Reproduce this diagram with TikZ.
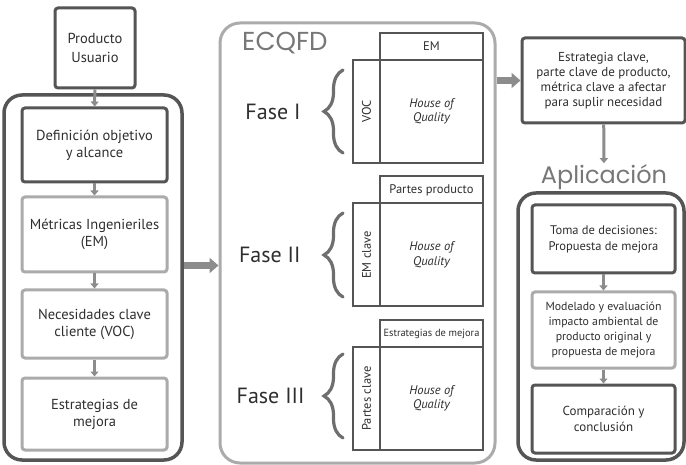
\documentclass[tikz,border=0pt]{standalone}
\usepackage{fontspec}
\setmainfont{PT Sans}
\newfontfamily\thinfont{Poppins}
\usetikzlibrary{positioning}
\usetikzlibrary{arrows.meta}
\usetikzlibrary{decorations.pathreplacing}
\definecolor{darkline}{HTML}{555555}
\definecolor{lightline}{HTML}{ABABAB}
\definecolor{arrowgray}{HTML}{8C8C8C}
\definecolor{textgray}{HTML}{2E2E2E}
\tikzset{stepnode/.style={
          align=center, text=textgray, inner sep=0pt,
          font=\fontsize{14.5}{17}\selectfont
          },
        darkbox/.style={stepnode, draw=darkline, line width=3pt, rounded corners=3pt},
        lightbox/.style={stepnode, draw=lightline, line width=3pt, rounded corners=3pt},
        outerbox/.style={draw=darkline, line width=3.5pt, rounded corners=18pt, inner sep=0pt},
        phasebox/.style={draw=lightline, line width=3pt, rounded corners=20pt, inner sep=0pt},
        hoqcell/.style={draw=darkline, line width=2pt, inner sep=0pt, outer sep=0pt,
          align=center, text=textgray, font=\fontsize{12.5}{14.5}\selectfont},
        hoqtitle/.style={text=textgray, font=\fontsize{22}{24}\selectfont, anchor=east},
        phasebrace/.style={draw=darkline!85, line width=3.2pt, line cap=round,
          decorate, decoration={brace, amplitude=19pt}},
        bigtitle/.style={text=darkline!80, font=\thinfont\fontsize{26}{28}\selectfont, inner sep=1pt},
        smallarrow/.style={draw=arrowgray, line width=3pt, -{Triangle[width=8pt,length=5pt]}},
        bigarrow/.style={draw=arrowgray, line width=7pt, -{Triangle[width=15pt,length=9pt]}},
}

\begin{document}
\begin{tikzpicture}[x=1pt, y=-1pt]
      \useasboundingbox (0,0) rectangle (686,465);

      % LEFT COLUMN
      \node[darkbox, minimum width=80pt, minimum height=80pt, font=\fontsize{14.5}{19}\selectfont] (prod) at (95,48) {Producto\\Usuario};
      \node[outerbox, minimum width=178pt, minimum height=365pt] (izq) at (93,277.5) {};
      \node[darkbox, minimum width=145pt, minimum height=74pt] (def) at (94.5,145) {Definición objetivo\\y alcance};
      \node[lightbox, minimum width=145pt, minimum height=75pt] (met) at (94.5,234.5) {Métricas Ingenieriles\\(EM)};
      \node[lightbox, minimum width=145pt, minimum height=68pt] (nec) at (94.5,324) {Necesidades clave\\cliente (VOC)};
      \node[lightbox, minimum width=145pt, minimum height=72pt] (est) at (94.5,414) {Estrategias de\\mejora};
      \draw[smallarrow] (prod) -- (def);
      \draw[smallarrow] (def) -- (met);
      \draw[smallarrow] (met) -- (nec);
      \draw[smallarrow] (nec) -- (est);

      % ECQFD
      \node[phasebox, minimum width=275pt, minimum height=440pt] (ecqfd) at (357.5,243) {};
      \node[bigtitle, anchor=west] (ecqfdtitle) at (241,43) {ECQFD};
      \draw[bigarrow] ([yshift=12pt]izq.east) -- ([yshift=12pt]izq.east -| ecqfd.west);

      % Fase I
      \node[hoqcell, minimum width=103pt, minimum height=103pt] (hoq1) at (431.5,111.5) {\itshape House of\\\itshape Quality};
      \node[hoqcell, minimum width=103pt, minimum height=27pt, above=0pt of hoq1] (em1) {EM};
      \node[hoqcell, rotate=90, anchor=south, minimum width=103pt, minimum height=27pt] (voc1) at (hoq1.west) {VOC};
      \draw[phasebrace] (343,153) -- (343,70);
      \node[hoqtitle] (fase1) at (304,111.5) {Fase I};

      % Fase II
      \node[hoqcell, minimum width=103pt, minimum height=103pt] (hoq2) at (431.5,255) {\itshape House of\\\itshape Quality};
      \node[hoqcell, minimum width=103pt, minimum height=27pt, above=0pt of hoq2] (pp2) {Partes producto};
      \node[hoqcell, rotate=90, anchor=south, minimum width=103pt, minimum height=27pt] (emc2) at (hoq2.west) {EM clave};
      \draw[phasebrace] (343,297) -- (343,213);
      \node[hoqtitle] (fase2) at (304,255) {Fase II};

      % Fase III
      \node[hoqcell, minimum width=103pt, minimum height=103pt] (hoq3) at (431.5,398.5) {\itshape House of\\\itshape Quality};
      \node[hoqcell, minimum width=103pt, minimum height=27pt, above=0pt of hoq3, font=\fontsize{10.4}{12}\selectfont] (em3) {Estrategias de mejora};
      \node[hoqcell, rotate=90, anchor=south, minimum width=103pt, minimum height=27pt] (pc3) at (hoq3.west) {Partes clave};
      \draw[phasebrace] (343,438) -- (343,354);
      \node[hoqtitle] (fase3) at (308,396) {Fase III};

      % RIGHT COLUMN
      \node[darkbox, minimum width=163pt, minimum height=85pt, font=\fontsize{13}{15}\selectfont] (clave) at (603.5,80.5) {Estrategia clave,\\parte clave de producto,\\métrica clave a afectar\\para suplir necesidad};
      \draw[bigarrow] (ecqfd.east |- clave.west) -- (clave.west);
      \node[bigtitle, font=\thinfont\fontsize{24}{26}\selectfont] (aplic) at (604,177) {Aplicación};
      \draw[smallarrow] (clave) -- (aplic);
      \node[outerbox, minimum width=166pt, minimum height=267pt] (apl) at (601,326.5) {};
      \node[darkbox, minimum width=143pt, minimum height=68pt, font=\fontsize{12.5}{16}\selectfont] (toma) at (603.5,239) {Toma de decisiones:\\Propuesta de mejora};
      \node[lightbox, minimum width=143pt, minimum height=76pt, font=\fontsize{11.8}{15}\selectfont] (mod) at (603.5,330) {Modelado y evaluación\\impacto ambiental de\\producto original y\\propuesta de mejora};
      \node[darkbox, minimum width=143pt, minimum height=68pt, font=\fontsize{13}{16}\selectfont] (comp) at (603.5,419) {Comparación y\\conclusión};
      \draw[smallarrow] (toma) -- (mod);
      \draw[smallarrow] (mod) -- (comp);

\end{tikzpicture}
\end{document}
